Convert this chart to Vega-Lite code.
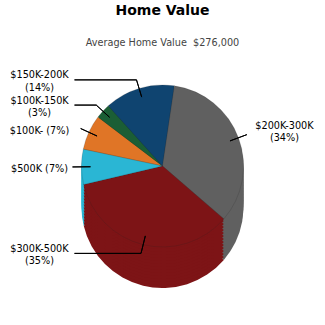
{
  "$schema": "https://vega.github.io/schema/vega-lite/v6.json",
  "width": 325,
  "height": 216,
  "padding": {"top": 4, "left": 0, "right": 0, "bottom": 0},
  "background": "white",
  "title": {
    "text": "Home Value",
    "subtitle": "Average Home Value\u00a0 $276,000",
    "font": "DejaVu Sans",
    "fontSize": 14,
    "fontWeight": "bold",
    "color": "#000000",
    "subtitleFont": "DejaVu Sans",
    "subtitleFontSize": 9.7,
    "subtitleColor": "#444444",
    "subtitlePadding": 20,
    "offset": 10,
    "anchor": "middle",
    "frame": "group"
  },
  "config": {"view": {"stroke": null}},
  "data": {
    "values": [
      {"band": "$100K-", "share": 7, "label": "$100K- (7%)"},
      {"band": "$100K-150K", "share": 3, "label": "$100K-150K\n(3%)"},
      {"band": "$150K-200K", "share": 14, "label": "$150K-200K\n(14%)"},
      {"band": "$200K-300K", "share": 34, "label": "$200K-300K\n(34%)"},
      {"band": "$300K-500K", "share": 35, "label": "$300K-500K\n(35%)"},
      {"band": "$500K", "share": 7, "label": "$500K (7%)"}
    ]
  },
  "encoding": {
    "theta": {
      "field": "share",
      "type": "quantitative",
      "stack": true,
      "scale": {"range": [4.922, 11.205]}
    }
  },
  "layer": [
    {
      "mark": {"type": "arc", "radius": 81, "yOffset": 41},
      "encoding": {
        "color": {
          "field": "band",
          "type": "nominal",
          "legend": null,
          "scale": {
            "domain": ["$100K-", "$100K-150K", "$150K-200K", "$200K-300K", "$300K-500K", "$500K"],
            "range": ["#e07526", "#1b5e35", "#0f4470", "#606060", "#7d1416", "#2ab6d4"]
          }
        }
      }
    },
    {"mark": {"type": "arc", "radius": 81, "yOffset": 38}, "encoding": {"color": {"field": "band", "type": "nominal", "legend": null}}},
    {"mark": {"type": "arc", "radius": 81, "yOffset": 35}, "encoding": {"color": {"field": "band", "type": "nominal", "legend": null}}},
    {"mark": {"type": "arc", "radius": 81, "yOffset": 32}, "encoding": {"color": {"field": "band", "type": "nominal", "legend": null}}},
    {"mark": {"type": "arc", "radius": 81, "yOffset": 29}, "encoding": {"color": {"field": "band", "type": "nominal", "legend": null}}},
    {"mark": {"type": "arc", "radius": 81, "yOffset": 26}, "encoding": {"color": {"field": "band", "type": "nominal", "legend": null}}},
    {"mark": {"type": "arc", "radius": 81, "yOffset": 23}, "encoding": {"color": {"field": "band", "type": "nominal", "legend": null}}},
    {"mark": {"type": "arc", "radius": 81, "yOffset": 20}, "encoding": {"color": {"field": "band", "type": "nominal", "legend": null}}},
    {"mark": {"type": "arc", "radius": 81, "yOffset": 17}, "encoding": {"color": {"field": "band", "type": "nominal", "legend": null}}},
    {"mark": {"type": "arc", "radius": 81, "yOffset": 14}, "encoding": {"color": {"field": "band", "type": "nominal", "legend": null}}},
    {"mark": {"type": "arc", "radius": 81, "yOffset": 11}, "encoding": {"color": {"field": "band", "type": "nominal", "legend": null}}},
    {"mark": {"type": "arc", "radius": 81, "yOffset": 8}, "encoding": {"color": {"field": "band", "type": "nominal", "legend": null}}},
    {"mark": {"type": "arc", "radius": 81, "yOffset": 5}, "encoding": {"color": {"field": "band", "type": "nominal", "legend": null}}},
    {"mark": {"type": "arc", "radius": 81, "yOffset": 2}, "encoding": {"color": {"field": "band", "type": "nominal", "legend": null}}},
    {
      "mark": {"type": "arc", "radius": 81, "stroke": "#222222", "strokeWidth": 0.5, "strokeOpacity": 0.35},
      "encoding": {"color": {"field": "band", "type": "nominal", "legend": null}}
    },
    {
      "mark": {"type": "arc", "innerRadius": 72, "outerRadius": 90, "padAngle": 3, "fillOpacity": 0, "stroke": "#000000", "strokeWidth": 1},
      "encoding": {"detail": {"field": "band"}}
    },
    {
      "mark": {"type": "arc", "clip": true, "innerRadius": 26, "outerRadius": 88, "padAngle": 3, "thetaOffset": -1.2776, "theta2Offset": -1.2776, "yOffset": -86.1, "fillOpacity": 0, "stroke": "#000000", "strokeWidth": 1},
      "encoding": {"detail": {"field": "band"}, "strokeOpacity": {"condition": {"test": "datum.band === '$150K-200K'", "value": 1}, "value": 0}}
    },
    {
      "mark": {"type": "arc", "clip": true, "innerRadius": 21.5, "outerRadius": 88, "padAngle": 3, "thetaOffset": 1.3299, "theta2Offset": 1.3299, "yOffset": 87.4, "fillOpacity": 0, "stroke": "#000000", "strokeWidth": 1},
      "encoding": {"detail": {"field": "band"}, "strokeOpacity": {"condition": {"test": "datum.band === '$300K-500K'", "value": 1}, "value": 0}}
    },
    {
      "mark": {"type": "arc", "clip": true, "innerRadius": 66.2, "outerRadius": 88, "padAngle": 3, "thetaOffset": -0.7435, "theta2Offset": -0.7435, "yOffset": -60.9, "fillOpacity": 0, "stroke": "#000000", "strokeWidth": 1},
      "encoding": {"detail": {"field": "band"}, "strokeOpacity": {"condition": {"test": "datum.band === '$100K-150K'", "value": 1}, "value": 0}}
    },
    {
      "mark": {"type": "text", "clip": true, "radius": 127.9, "thetaOffset": -0.152, "lineBreak": "\n", "font": "DejaVu Sans", "fontSize": 9.7, "lineHeight": 12.5, "align": "center", "baseline": "middle", "color": "#000000"},
      "encoding": {"detail": {"field": "band"}, "text": {"condition": {"test": "datum.band === '$100K-'", "field": "label"}, "value": ""}}
    },
    {
      "mark": {"type": "text", "clip": true, "radius": 139.1, "thetaOffset": -0.257, "lineBreak": "\n", "font": "DejaVu Sans", "fontSize": 9.7, "lineHeight": 12.5, "align": "center", "baseline": "middle", "color": "#000000"},
      "encoding": {"detail": {"field": "band"}, "text": {"condition": {"test": "datum.band === '$100K-150K'", "field": "label"}, "value": ""}}
    },
    {
      "mark": {"type": "text", "clip": true, "radius": 153, "thetaOffset": -0.641, "lineBreak": "\n", "font": "DejaVu Sans", "fontSize": 9.7, "lineHeight": 12.5, "align": "center", "baseline": "middle", "color": "#000000"},
      "encoding": {"detail": {"field": "band"}, "text": {"condition": {"test": "datum.band === '$150K-200K'", "field": "label"}, "value": ""}}
    },
    {
      "mark": {"type": "text", "clip": true, "radius": 128.4, "thetaOffset": 0.038, "lineBreak": "\n", "font": "DejaVu Sans", "fontSize": 9.7, "lineHeight": 12.5, "align": "center", "baseline": "middle", "color": "#000000"},
      "encoding": {"detail": {"field": "band"}, "text": {"condition": {"test": "datum.band === '$200K-300K'", "field": "label"}, "value": ""}}
    },
    {
      "mark": {"type": "text", "clip": true, "radius": 148.4, "thetaOffset": 0.737, "lineBreak": "\n", "font": "DejaVu Sans", "fontSize": 9.7, "lineHeight": 12.5, "align": "center", "baseline": "middle", "color": "#000000"},
      "encoding": {"detail": {"field": "band"}, "text": {"condition": {"test": "datum.band === '$300K-500K'", "field": "label"}, "value": ""}}
    },
    {
      "mark": {"type": "text", "clip": true, "radius": 123, "thetaOffset": -0.014, "lineBreak": "\n", "font": "DejaVu Sans", "fontSize": 9.7, "lineHeight": 12.5, "align": "center", "baseline": "middle", "color": "#000000"},
      "encoding": {"detail": {"field": "band"}, "text": {"condition": {"test": "datum.band === '$500K'", "field": "label"}, "value": ""}}
    }
  ]
}
